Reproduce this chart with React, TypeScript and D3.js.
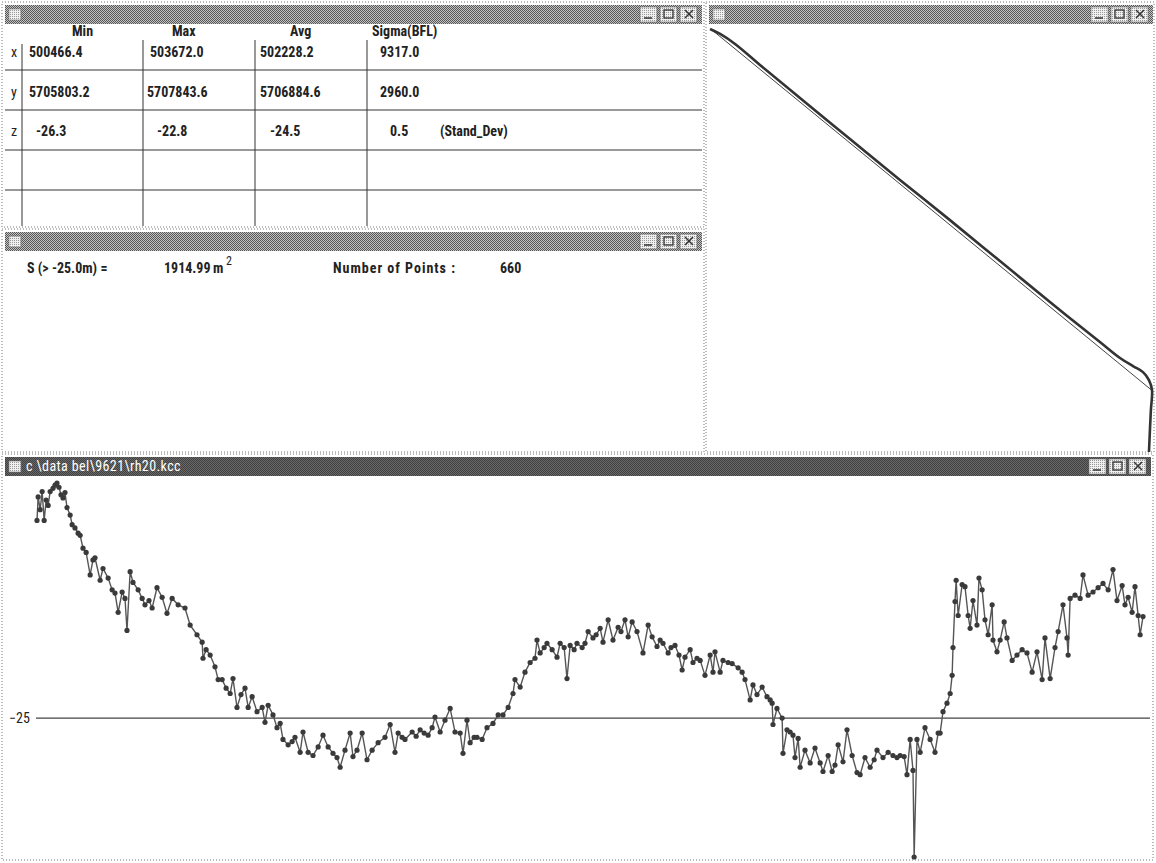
import React from "react";
import * as d3 from "d3";

const WIDTH = 1156;
const HEIGHT = 863;
const FONT = "'Liberation Sans Narrow', 'Roboto Condensed', 'DejaVu Sans Condensed', sans-serif";

// statistics table
const STAT_COLUMNS = ["Min", "Max", "Avg", "Sigma(BFL)"];
const STAT_ROWS = ["x", "y", "z", ""];
const STAT_X = ["500466.4", "503672.0", "502228.2", "9317.0"];
const STAT_Y = ["5705803.2", "5707843.6", "5706884.6", "2960.0"];
const STAT_Z = ["-26.3", "-22.8", "-24.5", "0.5", "(Stand_Dev)"];

// surface window
const CUT_LEVEL = -25.0;
const SURFACE = "1914.99";
const POINT_COUNT = 660;

// z range of the profile window
const Z_MIN = -26.3;
const Z_MAX = -22.8;
const FILE_NAME = "c \\data  bel\\9621\\rh20.kcc";

// distance along profile (m) and depth (m)
const PROFILE_DIST = [
  0, 4, 11, 18, 25, 32, 39, 46, 56, 63, 70, 77, 84, 91, 98, 105, 116, 123, 133, 144,
  151, 161, 172, 186, 196, 203, 221, 231, 249, 263, 273, 284, 298, 308, 315, 326, 336, 354, 368, 378,
  392, 403, 420, 438, 455, 473, 494, 518, 536, 560, 578, 581, 592, 606, 623, 634, 648, 662, 676, 686,
  700, 714, 728, 739, 753, 770, 788, 798, 809, 826, 840, 851, 861, 879, 893, 903, 921, 931, 949, 966,
  984, 1001, 1019, 1036, 1050, 1061, 1078, 1096, 1106, 1120, 1138, 1155, 1173, 1194, 1218, 1236, 1253, 1264, 1278, 1288,
  1313, 1327, 1341, 1355, 1369, 1383, 1393, 1411, 1428, 1446, 1463, 1481, 1491, 1505, 1516, 1530, 1540, 1558, 1575, 1596,
  1614, 1631, 1649, 1666, 1673, 1691, 1708, 1726, 1743, 1750, 1761, 1775, 1785, 1803, 1820, 1831, 1845, 1855, 1866, 1880,
  1890, 1908, 1918, 1929, 1946, 1957, 1971, 1981, 1999, 2016, 2034, 2044, 2058, 2069, 2083, 2100, 2121, 2139, 2153, 2170,
  2181, 2191, 2209, 2219, 2233, 2247, 2258, 2268, 2286, 2296, 2310, 2321, 2338, 2356, 2366, 2373, 2391, 2401, 2419, 2433,
  2454, 2468, 2478, 2496, 2506, 2520, 2538, 2555, 2566, 2573, 2576, 2590, 2608, 2611, 2625, 2636, 2646, 2653, 2664, 2671,
  2688, 2706, 2723, 2741, 2751, 2769, 2783, 2793, 2804, 2821, 2835, 2853, 2870, 2881, 2898, 2916, 2930, 2940, 2961, 2979,
  2996, 3010, 3021, 3035, 3045, 3056, 3066, 3070, 3080, 3091, 3108, 3126, 3143, 3154, 3161, 3171, 3185, 3196, 3203, 3206,
  3213, 3217, 3224, 3238, 3248, 3259, 3266, 3276, 3290, 3297, 3308, 3318, 3329, 3343, 3346, 3360, 3371, 3385, 3395, 3413,
  3430, 3448, 3465, 3483, 3500, 3518, 3528, 3546, 3563, 3574, 3591, 3605, 3609, 3616, 3633, 3651, 3661, 3679, 3696, 3714,
  3731, 3749, 3766, 3780, 3798, 3808, 3819, 3833, 3843, 3854, 3861, 3871,
];
const PROFILE_Z = [
  -23.15, -22.93, -23.05, -22.88, -23.15, -22.96, -23.01, -22.88, -22.85, -22.82, -22.80, -22.84, -22.91, -22.94, -22.89, -23.03, -23.10, -23.19, -23.22, -23.27,
  -23.29, -23.41, -23.45, -23.66, -23.52, -23.50, -23.71, -23.60, -23.69, -23.80, -23.83, -24.01, -23.82, -23.88, -24.18, -23.63, -23.73, -23.80, -23.88, -23.94,
  -23.90, -23.97, -23.78, -23.87, -24.02, -23.88, -23.94, -23.97, -24.13, -24.22, -24.29, -24.44, -24.36, -24.41, -24.52, -24.64, -24.64, -24.72, -24.77, -24.63,
  -24.90, -24.78, -24.72, -24.90, -24.80, -24.94, -24.90, -25.04, -24.88, -24.97, -25.09, -25.05, -25.20, -25.25, -25.22, -25.18, -25.32, -25.13, -25.32, -25.35,
  -25.27, -25.16, -25.27, -25.33, -25.37, -25.46, -25.30, -25.14, -25.36, -25.30, -25.14, -25.39, -25.30, -25.23, -25.18, -25.06, -25.32, -25.14, -25.18, -25.20,
  -25.13, -25.17, -25.11, -25.14, -25.16, -25.09, -24.99, -25.13, -25.02, -24.91, -25.13, -25.14, -25.33, -25.02, -25.23, -25.18, -25.18, -25.20, -25.09, -25.05,
  -24.97, -24.97, -24.90, -24.77, -24.64, -24.71, -24.57, -24.48, -24.44, -24.27, -24.39, -24.34, -24.30, -24.36, -24.43, -24.30, -24.34, -24.63, -24.32, -24.36,
  -24.30, -24.34, -24.30, -24.19, -24.25, -24.22, -24.16, -24.29, -24.08, -24.27, -24.15, -24.19, -24.08, -24.24, -24.10, -24.19, -24.39, -24.13, -24.24, -24.33,
  -24.27, -24.30, -24.39, -24.34, -24.32, -24.41, -24.55, -24.43, -24.36, -24.48, -24.44, -24.46, -24.60, -24.41, -24.57, -24.38, -24.57, -24.46, -24.48, -24.49,
  -24.53, -24.57, -24.64, -24.83, -24.69, -24.78, -24.71, -24.80, -24.83, -24.86, -25.06, -24.91, -25.00, -25.33, -25.11, -25.13, -25.16, -25.37, -25.19, -25.46,
  -25.30, -25.42, -25.28, -25.42, -25.50, -25.35, -25.50, -25.44, -25.25, -25.41, -25.11, -25.35, -25.51, -25.53, -25.37, -25.46, -25.39, -25.30, -25.37, -25.32,
  -25.35, -25.37, -25.35, -25.36, -25.53, -25.20, -25.49, -26.30, -25.20, -25.32, -25.09, -25.20, -25.32, -25.14, -25.14, -24.94, -24.86, -24.77, -24.60, -24.34,
  -23.91, -23.71, -24.04, -23.75, -23.77, -24.04, -24.16, -23.90, -24.13, -23.69, -23.80, -24.08, -24.22, -23.94, -24.27, -24.38, -24.27, -24.10, -24.25, -24.46,
  -24.41, -24.36, -24.39, -24.57, -24.38, -24.64, -24.25, -24.63, -24.34, -24.19, -23.94, -24.25, -24.41, -23.88, -23.85, -23.88, -23.66, -23.85, -23.82, -23.78,
  -23.74, -23.80, -23.61, -23.90, -23.76, -23.94, -23.87, -24.01, -23.77, -24.04, -24.22, -24.05,
];

// survey track in plan (easting, northing)
const TRACK_E = [500480, 500553, 500661, 500841, 501130, 501491, 501852, 502213, 502574, 502935, 503296, 503441, 503535, 503607, 503650, 503672, 503664, 503657, 503650];
const TRACK_N = [5707838, 5707814, 5707766, 5707665, 5707506, 5707309, 5707112, 5706919, 5706722, 5706525, 5706333, 5706256, 5706217, 5706188, 5706150, 5706102, 5706006, 5705909, 5705804];
// best fit line
const FIT_E = [500495, 503672];
const FIT_N = [5707833, 5706100];

const TitleBar = ({ x, y, w, active, title }: { x: number; y: number; w: number; active?: boolean; title?: string }) => {
  const h = 19;
  const bx = x + w - 62;
  return (
    <g>
      <rect x={x} y={y} width={w} height={h} fill={active ? "url(#ditherDark)" : "url(#dither)"} />
      <rect x={x + 4} y={y + 4} width={12} height={11} fill="url(#ditherLight)" stroke="#777" strokeWidth={0.6} />
      {title && (
        <text x={x + 21} y={y + 14} fill="#fff" fontFamily={FONT} fontSize={14} letterSpacing={0.4}>
          {title}
        </text>
      )}
      {[0, 1, 2].map(i => (
        <rect key={i} x={bx + i * 20} y={y + 2} width={17} height={15} fill="url(#ditherLight)" stroke="#666" strokeWidth={0.6} />
      ))}
      <line x1={bx + 4} x2={bx + 12} y1={y + 13} y2={y + 13} stroke="#333" strokeWidth={1.5} />
      <rect x={bx + 24} y={y + 5} width={9} height={8} fill="none" stroke="#333" strokeWidth={1.3} />
      <path d={`M${bx + 45},${y + 5}L${bx + 53},${y + 13}M${bx + 53},${y + 5}L${bx + 45},${y + 13}`} stroke="#333" strokeWidth={1.5} />
    </g>
  );
};

const Frame = ({ x, y, w, h }: { x: number; y: number; w: number; h: number }) => (
  <rect x={x} y={y} width={w} height={h} fill="none" stroke="#777" strokeWidth={1} strokeDasharray="1 2" />
);

const StatsTable = () => {
  const colLines = [22, 143, 255, 367];
  const rowLines = [70, 110, 150, 190];
  const headerX = [72, 172, 290, 372];
  const rowY = [57, 97, 136];
  const starts = [
    [29, 150, 260, 380],
    [29, 147, 260, 380],
    [36, 157, 270, 390, 440],
  ];
  const rows = [STAT_X, STAT_Y, STAT_Z];
  return (
    <g fontFamily={FONT} fontWeight="bold" fontSize={14} fill="#222">
      {STAT_COLUMNS.map((c, i) => (
        <text key={c} x={headerX[i]} y={36}>{c}</text>
      ))}
      {rowLines.map(y => (
        <line key={y} x1={5} x2={702} y1={y} y2={y} stroke="#333" strokeWidth={1} />
      ))}
      {colLines.map(x => (
        <line key={x} x1={x} x2={x} y1={x === 22 ? 44 : 40} y2={226} stroke="#333" strokeWidth={1} />
      ))}
      {STAT_ROWS.slice(0, 3).map((r, i) => (
        <text key={r} x={11} y={rowY[i]} fontWeight="normal">{r}</text>
      ))}
      {rows.map((vals, i) =>
        vals.map((v, j) => (
          <text key={`${i}-${j}`} x={starts[i][j]} y={rowY[i]}>{v}</text>
        )),
      )}
    </g>
  );
};

const TrackMap = () => {
  const ex = d3.extent([...TRACK_E, ...FIT_E]) as [number, number];
  const ny = d3.extent([...TRACK_N, ...FIT_N]) as [number, number];
  const sx = d3.scaleLinear().domain(ex).range([710, 1152]);
  const sy = d3.scaleLinear().domain(ny).range([452, 29]);
  const track = d3.line<number>().x(d => sx(TRACK_E[d])).y(d => sy(TRACK_N[d])).curve(d3.curveCatmullRom);
  const fit = d3.line<number>().x(d => sx(FIT_E[d])).y(d => sy(FIT_N[d]));
  return (
    <g>
      <path d={fit(d3.range(FIT_E.length)) ?? ""} fill="none" stroke="#444" strokeWidth={1} />
      <path d={track(d3.range(TRACK_E.length)) ?? ""} fill="none" stroke="#333" strokeWidth={2.6} />
    </g>
  );
};

const Profile = () => {
  const x = d3.scaleLinear().domain(d3.extent(PROFILE_DIST) as [number, number]).range([37, 1143]);
  const y = d3.scaleLinear().domain([Z_MIN, Z_MAX]).range([857, 483]);
  const idx = d3.range(PROFILE_DIST.length);
  const lineGen = d3.line<number>().x(i => x(PROFILE_DIST[i])).y(i => y(PROFILE_Z[i]));
  return (
    <g>
      <line x1={36} x2={1150} y1={y(CUT_LEVEL)} y2={y(CUT_LEVEL)} stroke="#444" strokeWidth={1.2} />
      <text x={9} y={y(CUT_LEVEL) + 5} fontFamily={FONT} fontSize={14} fill="#222">{d3.format("d")(CUT_LEVEL)}</text>
      <path d={lineGen(idx) ?? ""} fill="none" stroke="#555" strokeWidth={1.4} />
      {idx.map(i => (
        <circle key={i} cx={x(PROFILE_DIST[i])} cy={y(PROFILE_Z[i])} r={2.6} fill="#3a3a3a" />
      ))}
    </g>
  );
};

export default function App() {
  return (
    <svg width={WIDTH} height={HEIGHT} style={{ position: "absolute", left: 0, top: 0, background: "#fff" }}>
      <defs>
        <pattern id="dither" width={2} height={2} patternUnits="userSpaceOnUse">
          <rect width={2} height={2} fill="#c4c4c4" />
          <rect width={1} height={1} fill="#555" />
          <rect x={1} y={1} width={1} height={1} fill="#555" />
        </pattern>
        <pattern id="ditherDark" width={2} height={2} patternUnits="userSpaceOnUse">
          <rect width={2} height={2} fill="#6a6a6a" />
          <rect width={1} height={1} fill="#404040" />
          <rect x={1} y={1} width={1} height={1} fill="#404040" />
        </pattern>
        <pattern id="ditherLight" width={2} height={2} patternUnits="userSpaceOnUse">
          <rect width={2} height={2} fill="#f0f0f0" />
          <rect width={1} height={1} fill="#999" />
        </pattern>
      </defs>
      <rect width={WIDTH} height={HEIGHT} fill="#fff" />

      {/* table window */}
      <Frame x={2} y={2} w={702} h={225} />
      <TitleBar x={5} y={5} w={697} />
      <StatsTable />

      {/* surface window */}
      <Frame x={2} y={229} w={702} h={223} />
      <TitleBar x={5} y={232} w={697} />
      <g fontFamily={FONT} fontSize={14} fill="#222">
        <text x={27} y={273} fontWeight="bold">{`S (> ${CUT_LEVEL.toFixed(1)}m) =`}</text>
        <text x={164} y={273} fontWeight="bold">{SURFACE}</text>
        <text x={213} y={273} fontWeight="bold">m</text>
        <text x={226} y={265} fontSize={12}>2</text>
        <text x={333} y={273} fontWeight="bold" textLength={122} lengthAdjust="spacing">Number of Points :</text>
        <text x={500} y={273} fontWeight="bold">{POINT_COUNT}</text>
      </g>

      {/* map window */}
      <Frame x={706} y={2} w={448} h={450} />
      <TitleBar x={709} y={5} w={444} />
      <TrackMap />

      {/* profile window */}
      <Frame x={2} y={454} w={1151} h={406} />
      <TitleBar x={5} y={457} w={1146} active title={FILE_NAME} />
      <Profile />
    </svg>
  );
}
